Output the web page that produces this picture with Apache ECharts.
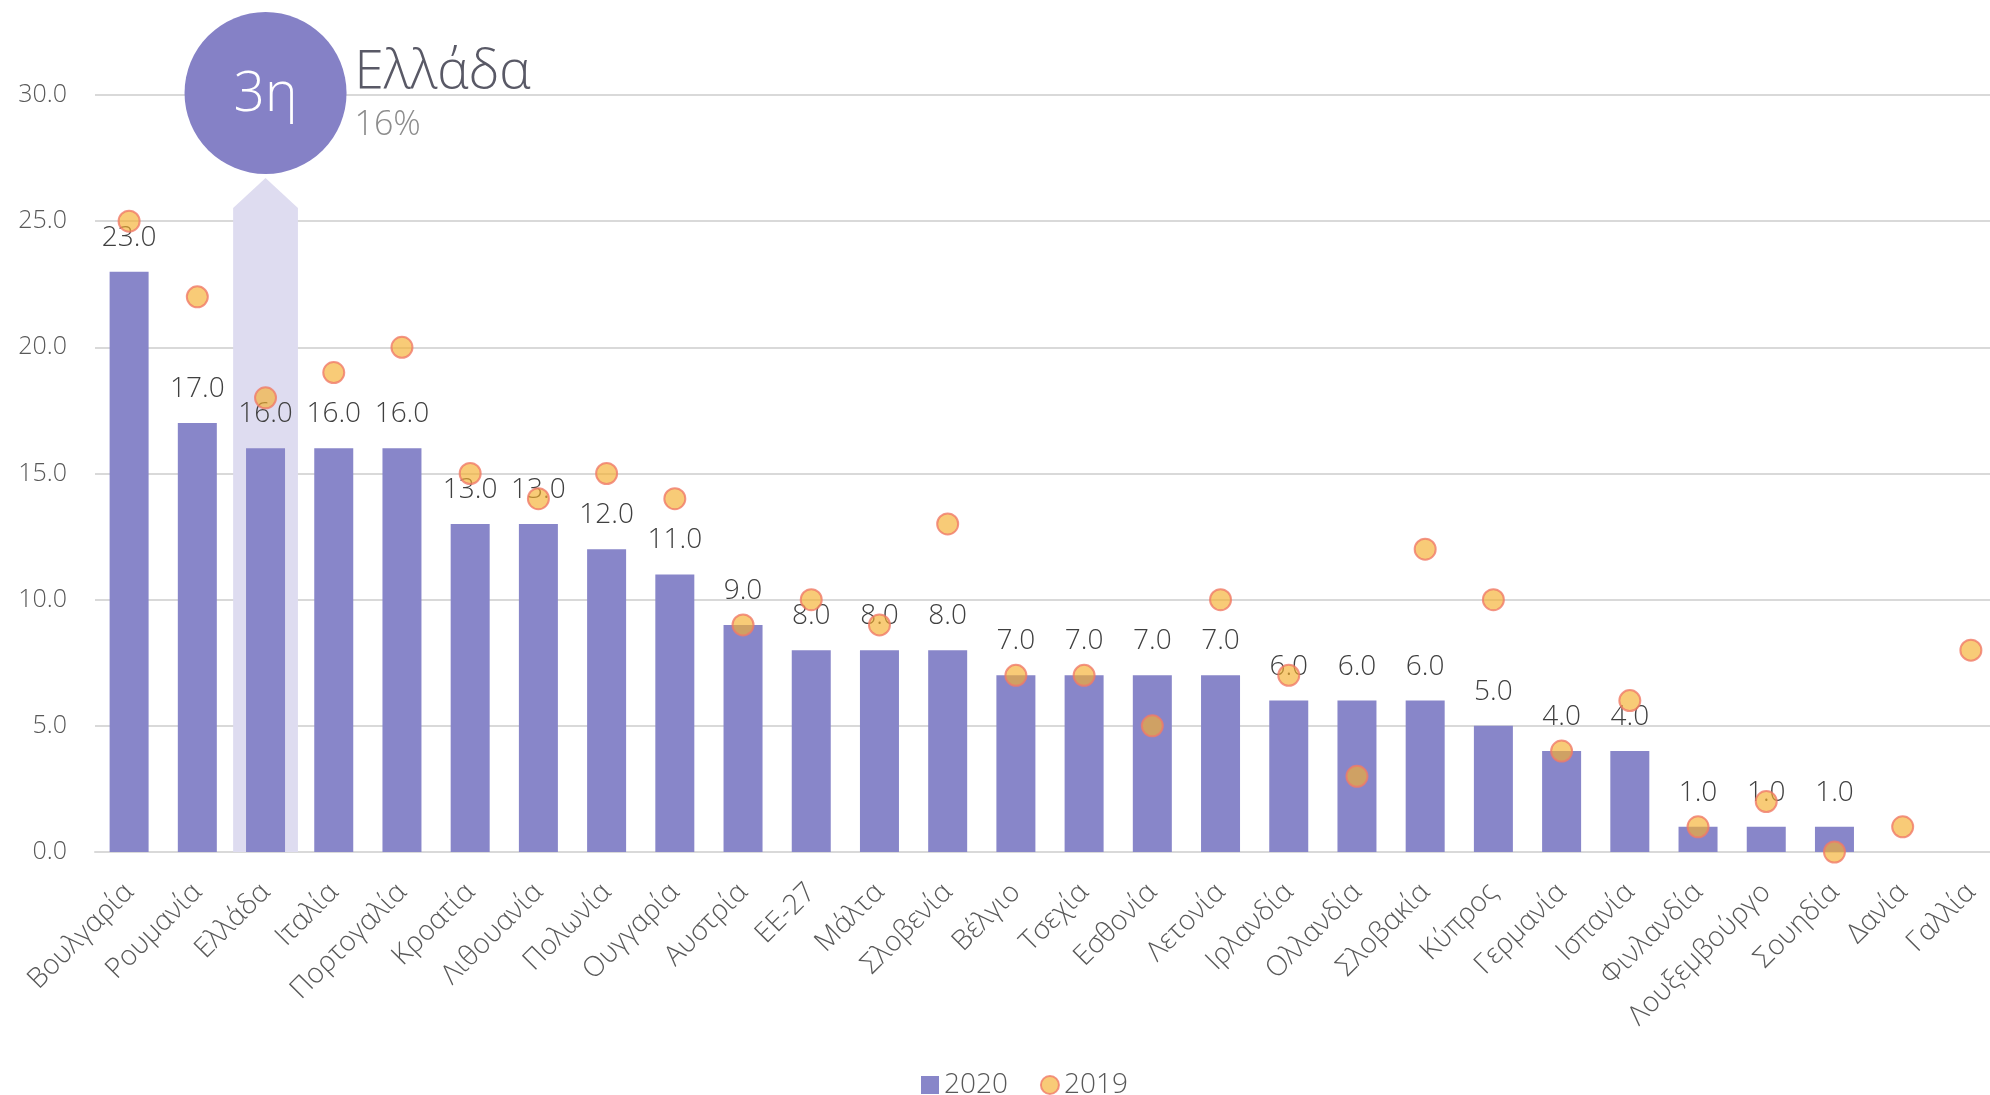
<!DOCTYPE html>
<html>
<head>
<meta charset="utf-8">
<script src="https://cdn.jsdelivr.net/npm/echarts@6/dist/echarts.min.js"></script>
<style>
  html, body { margin: 0; padding: 0; background: #fff; overflow: hidden; }
  /* το γράφημα συνεχίζει λίγο πέρα από το δεξί άκρο, όπως στο πρωτότυπο */
  #chart { width: 2005px; height: 1095px; }
</style>
</head>
<body>
<div id="chart"></div>
<script>
// χώρες με τη σειρά του γραφήματος
var countries = ['Βουλγαρία', 'Ρουμανία', 'Ελλάδα', 'Ιταλία', 'Πορτογαλία', 'Κροατία', 'Λιθουανία',
  'Πολωνία', 'Ουγγαρία', 'Αυστρία', 'ΕΕ-27', 'Μάλτα', 'Σλοβενία', 'Βέλγιο', 'Τσεχία', 'Εσθονία',
  'Λετονία', 'Ιρλανδία', 'Ολλανδία', 'Σλοβακία', 'Κύπρος', 'Γερμανία', 'Ισπανία', 'Φινλανδία',
  'Λουξεμβούργο', 'Σουηδία', 'Δανία', 'Γαλλία'];
var values2020 = [23, 17, 16, 16, 16, 13, 13, 12, 11, 9, 8, 8, 8, 7, 7, 7, 7, 6, 6, 6, 5, 4, 4, 1, 1, 1, null, null];
var values2019 = [25, 22, 18, 19, 20, 15, 14, 15, 14, 9, 10, 9, 13, 7, 7, 5, 10, 7, 3, 12, 10, 4, 6, 1, 2, 0, 1, 8];
var yTicks = { min: 0, max: 30, step: 5 };

// επισήμανση Ελλάδας
var focusCountry = 'Ελλάδα';
var focusRank = '3η';
var focusShare = '16%';

var FONT = "'Open Sans', 'Noto Sans', sans-serif";

var chart = echarts.init(document.getElementById('chart'));

var focusIndex = countries.indexOf(focusCountry);

chart.setOption({
  animation: false,
  textStyle: { fontFamily: FONT, fontWeight: 300 },
  grid: { left: 95, right: 0, top: 95, bottom: 243 },
  legend: {
    left: 916,
    top: 1066,
    itemWidth: 18,
    itemHeight: 18,
    itemGap: 32,
    textStyle: { fontSize: 28, color: '#595959', fontFamily: FONT, fontWeight: 300 },
    data: [
      { name: '2020', icon: 'rect' },
      { name: '2019', icon: 'circle' }
    ]
  },
  xAxis: {
    type: 'category',
    data: countries,
    axisLine: { lineStyle: { color: '#d9d9d9', width: 2 } },
    axisTick: { show: false },
    axisLabel: {
      interval: 0,
      rotate: 45,
      margin: 36,
      fontSize: 28,
      color: '#595959',
      fontFamily: FONT,
      fontWeight: 300
    }
  },
  yAxis: {
    type: 'value',
    min: yTicks.min,
    max: yTicks.max,
    interval: yTicks.step,
    axisLine: { show: false },
    axisTick: { show: false },
    splitLine: { lineStyle: { color: '#d9d9d9', width: 2 } },
    axisLabel: {
      margin: 28,
      fontSize: 25,
      color: '#595959',
      fontFamily: FONT,
      fontWeight: 300,
      formatter: function (v) { return v.toFixed(1); }
    }
  },
  series: [
    {
      type: 'custom',
      z: 1,
      silent: true,
      clip: false,
      data: [[focusIndex]],
      renderItem: function (params, api) {
        var idx = api.value(0);
        var base = api.coord([idx, 0]);
        var top = api.coord([idx, yTicks.max]);
        var halfW = api.size([1, 0])[0] * 0.475;
        var r = 81;
        var cx = base[0];
        var cy = top[1] - 2;
        var peakY = cy + r + 4;
        var shoulderY = peakY + 30;
        return {
          type: 'group',
          children: [
            {
              type: 'polygon',
              shape: {
                points: [
                  [cx - halfW, base[1]], [cx - halfW, shoulderY], [cx, peakY],
                  [cx + halfW, shoulderY], [cx + halfW, base[1]]
                ]
              },
              style: { fill: '#dedcf0' }
            },
            {
              type: 'circle',
              shape: { cx: cx, cy: cy, r: r },
              style: { fill: '#8581c6' }
            },
            {
              type: 'text',
              style: {
                x: cx, y: cy + 2, text: focusRank, fill: '#fff',
                font: '300 55px ' + FONT, align: 'center', verticalAlign: 'middle'
              }
            },
            {
              type: 'text',
              style: {
                x: cx + r + 8, y: cy - 20, text: focusCountry, fill: '#595966',
                font: '300 53px ' + FONT, align: 'left', verticalAlign: 'middle'
              }
            },
            {
              type: 'text',
              style: {
                x: cx + r + 8, y: cy + 32, text: focusShare, fill: '#8c8c8c',
                font: '300 34px ' + FONT, align: 'left', verticalAlign: 'middle'
              }
            }
          ]
        };
      }
    },
    {
      name: '2020',
      type: 'bar',
      z: 2,
      data: values2020,
      barWidth: 39,
      itemStyle: { color: '#8886c9' },
      label: {
        show: true,
        position: 'top',
        distance: 20,
        fontSize: 28,
        color: '#404040',
        fontFamily: FONT,
        fontWeight: 300,
        formatter: function (p) { return p.value == null ? '' : p.value.toFixed(1); }
      }
    },
    {
      name: '2019',
      type: 'scatter',
      z: 3,
      data: values2019,
      symbol: 'circle',
      symbolSize: 21,
      itemStyle: {
        color: 'rgba(245, 176, 48, 0.82)',
        borderColor: '#f07a68',
        borderWidth: 2
      }
    }
  ]
});
</script>
</body>
</html>
